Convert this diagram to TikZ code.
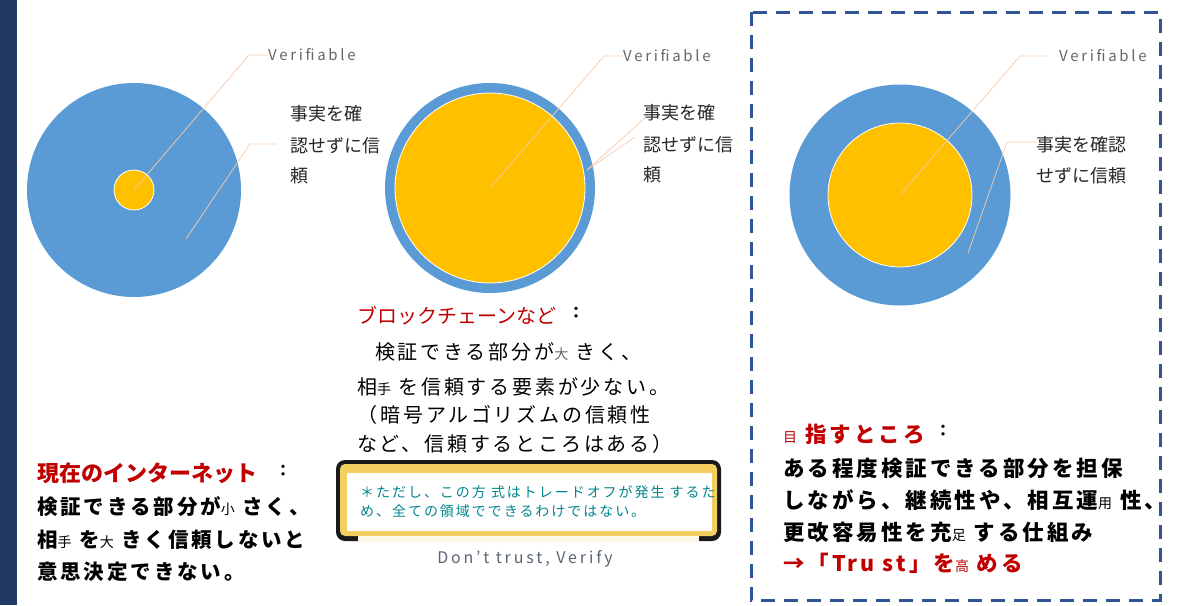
\documentclass[tikz,border=0pt]{standalone}
\usepackage{fontspec}
\setmainfont{Noto Sans CJK JP}
\newfontfamily\jpsp{Noto Sans CJK JP}[LetterSpace=14]
\newfontfamily\latsp{Noto Sans CJK JP}[LetterSpace=18]
\definecolor{navybar}{HTML}{1F3864}
\definecolor{ringblue}{HTML}{5B9BD5}
\definecolor{coreyel}{HTML}{FFC000}
\definecolor{titlered}{HTML}{C00000}
\definecolor{dashblue}{HTML}{2F5597}
\definecolor{noteteal}{HTML}{00868B}
\definecolor{leadpeach}{HTML}{F8CBAD}
\definecolor{framegold}{HTML}{F3CF62}
\definecolor{slogan}{HTML}{5B6475}
\newcommand\smc[1]{{\fontsize{14}{14}\selectfont\mdseries #1}}
\tikzset{
  outer/.style={circle, fill=ringblue, inner sep=0pt},
  core/.style={circle, fill=coreyel, draw=white, line width=0.8pt, inner sep=0pt},
  leader/.style={draw=leadpeach, line width=0.7pt},
  verif/.style={anchor=west, inner sep=0pt, text=black!60, font=\latsp\fontsize{15}{15}\selectfont},
  clabel/.style={anchor=west, inner sep=0pt, text=black!85, font=\fontsize{18}{18}\selectfont},
  lbody/.style={anchor=west, inner sep=0pt, font=\jpsp\bfseries\fontsize{20.5}{20.5}\selectfont},
  mbody/.style={anchor=west, inner sep=0pt, font=\jpsp\fontsize{20}{20}\selectfont},
  rbody/.style={anchor=west, inner sep=0pt, font=\jpsp\bfseries\fontsize{21.5}{21.5}\selectfont},
  colon/.style={inner sep=0pt, font=\bfseries\fontsize{16}{16}\selectfont},
  notetext/.style={anchor=west, inner sep=0pt, text=noteteal, font=\jpsp\fontsize{14}{14}\selectfont},
}
\begin{document}
\begin{tikzpicture}[x=1pt,y=-1pt]
\useasboundingbox (0,0) rectangle (1183,605);
\fill[white] (0,0) rectangle (1183,605);
\fill[navybar] (0,0) rectangle (17,605);

% ---- circle 1 ----
\node[outer, minimum size=214pt] (o1) at (134,190) {};
\node[core, minimum size=40pt] (c1) at (134,190) {};
\node[verif] (v1) at (268,55) {Verifiable};
\coordinate (k1a) at (249,55);
\draw[leader] (c1.center) -- (k1a) -- (v1.west);
\coordinate (p1) at (186,239);
\coordinate (k1b) at (250,144);
\coordinate (e1) at (277,144);
\draw[leader] (p1) -- (k1b) -- (e1);
\node[clabel] (t1a) at (290,114) {事実を確};
\node[clabel] (t1b) at (290,146) {認せずに信};
\node[clabel] (t1c) at (290,176) {頼};

% ---- circle 2 ----
\node[outer, minimum size=210pt] (o2) at (490,188) {};
\node[core, minimum size=190pt] (c2) at (490,188) {};
\node[verif] (v2) at (623,56) {Verifiable};
\coordinate (k2a) at (604,56);
\draw[leader] (c2.center) -- (k2a) -- (v2.west);
\coordinate (p2) at (587,170);
\coordinate (e2a) at (645,118);
\coordinate (e2b) at (635,137);
\draw[leader] (p2) -- (e2a);
\draw[leader] (p2) -- (e2b);
\node[clabel] (t2a) at (643,113) {事実を確};
\node[clabel] (t2b) at (643,145) {認せずに信};
\node[clabel] (t2c) at (643,175) {頼};

% ---- circle 3 ----
\node[outer, minimum size=221pt] (o3) at (900,195) {};
\node[core, minimum size=144pt] (c3) at (900,195) {};
\node[verif] (v3) at (1059,56) {Verifiable};
\coordinate (k3a) at (1020,56);
\coordinate (e3a) at (1048,56);
\draw[leader] (c3.center) -- (k3a) -- (e3a);
\coordinate (p3) at (968,253);
\coordinate (k3b) at (1007,142);
\coordinate (e3b) at (1037,142);
\draw[leader] (p3) -- (k3b) -- (e3b);
\node[clabel] (t3a) at (1036,145) {事実を確認};
\node[clabel] (t3b) at (1036,176) {せずに信頼};

% ---- dashed frame ----
\draw[dashblue, line width=3pt, dash pattern=on 14pt off 9pt] (751,12) rectangle (1160,600);

% ---- left text ----
\node[lbody, text=titlered, font=\bfseries\fontsize{22}{22}\selectfont] (l0) at (37,473) {現在のインターネット};
\node[colon] (l0c) at (283,471) {：};
\node[lbody] (l1) at (37,507) {検証できる部分が\smc{小} さく、};
\node[lbody] (l2) at (37,540) {相\smc{手} を\smc{大} きく信頼しないと};
\node[lbody] (l3) at (37,572) {意思決定できない。};

% ---- middle text ----
\node[mbody, text=titlered, font=\fontsize{20}{20}\selectfont] (m0) at (357,316) {ブロックチェーンなど};
\node[colon] (m0c) at (576,313) {：};
\node[mbody] (m1) at (375,352) {検証できる部分が{\color{black!60}\smc{大}} きく、};
\node[mbody] (m2) at (357,387) {相\smc{手} を信頼する要素が少ない。};
\node[mbody] (m3) at (357,415) {（\,暗号アルゴリズムの信頼性};
\node[mbody] (m4) at (357,444) {など、信頼するところはある）};

% ---- note box ----
\fill[black!90, rounded corners=9pt] (336,460) rectangle (721,541);
\fill[framegold, rounded corners=5pt] (340,464) rectangle (717,536);
\fill[white!85!framegold] (358,536) rectangle (699,541.5);
\node[fill=white, inner sep=0pt, minimum width=365pt, minimum height=58pt, anchor=north west] (note) at (347,473) {};
\node[notetext] (n1) at (360,492) {＊ただし、この\smc{方} 式はトレードオフが発\smc{生} するた};
\node[notetext] (n2) at (360,511) {め、全ての領域でできるわけではない。};

\node[anchor=center, inner sep=0pt, text=slogan, font=\latsp\fontsize{16}{16}\selectfont] (dv) at (525,559) {Don’t trust, Verify};

% ---- right text ----
\node[rbody, text=titlered] (r0) at (783,434) {\smc{目} 指すところ};
\node[colon] (r0c) at (943,431) {：};
\node[rbody] (r1) at (783,468) {ある程度検証できる部分を担保};
\node[rbody] (r2) at (783,500) {しながら、継続性や、相互運\smc{用} 性、};
\node[rbody] (r3) at (783,532) {更改容易性を充\smc{足} する仕組み};
\node[rbody, text=titlered] (r4) at (783,563) {→「Tru st」を\smc{高} める};
\end{tikzpicture}
\end{document}
